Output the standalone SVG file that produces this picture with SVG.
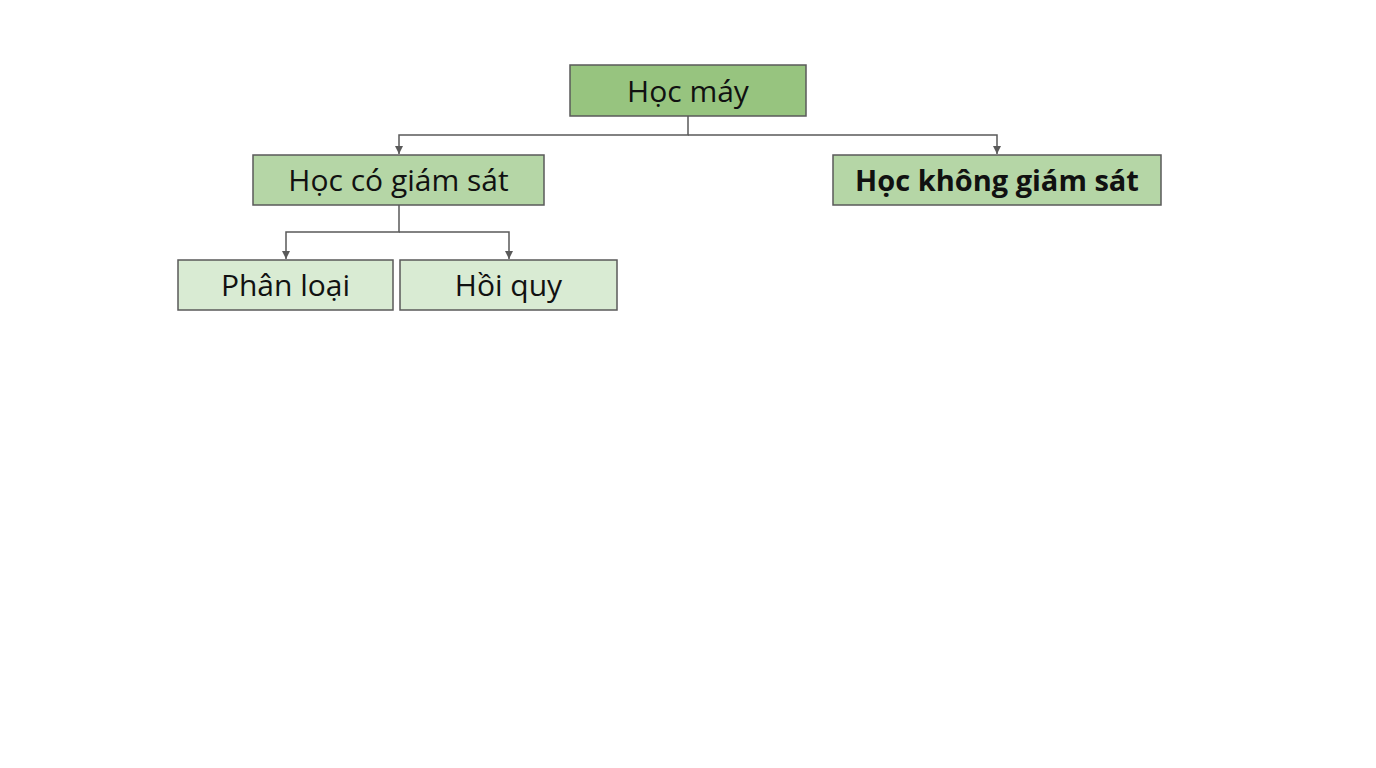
<svg xmlns="http://www.w3.org/2000/svg" width="1376" height="768" viewBox="0 0 1376 768">
<style>
.box{stroke:#5a5a5a;stroke-width:1.5}
.l0{fill:#97c47f}
.l1{fill:#b5d6a6}
.l2{fill:#d9ebd3}
.t{font-family:"Open Sans","Noto Sans","Liberation Sans",sans-serif;font-size:30px;fill:#111;text-anchor:middle;dominant-baseline:central}
.b{font-weight:bold;font-size:29px}
.c{fill:none;stroke:#5a5a5a;stroke-width:1.5}
</style>
<defs>
<marker id="ah" viewBox="0 0 8 8" refX="8" refY="4" markerWidth="8" markerHeight="8" markerUnits="userSpaceOnUse" orient="auto">
<path d="M0,0 L8,4 L0,8 z" fill="#5a5a5a"/>
</marker>
</defs>
<rect width="1376" height="768" fill="#ffffff"/>
<g id="connectors">
<path class="c" d="M688,116 V135 H399 V154" marker-end="url(#ah)"/>
<path class="c" d="M688,135 H997 V154" marker-end="url(#ah)"/>
<path class="c" d="M399,205 V232 H286 V259" marker-end="url(#ah)"/>
<path class="c" d="M399,232 H509 V259" marker-end="url(#ah)"/>
</g>
<g id="n-hocmay">
<rect class="box l0" x="570" y="65" width="236" height="51"/>
<text class="t" x="688" y="90">Học máy</text>
</g>
<g id="n-cogiamsat">
<rect class="box l1" x="253" y="155" width="291" height="50"/>
<text class="t" x="398.5" y="179">Học có giám sát</text>
</g>
<g id="n-khonggiamsat">
<rect class="box l1" x="833" y="155" width="328" height="50"/>
<text class="t b" x="997" y="179">Học không giám sát</text>
</g>
<g id="n-phanloai">
<rect class="box l2" x="178" y="260" width="215" height="50"/>
<text class="t" x="285.5" y="284">Phân loại</text>
</g>
<g id="n-hoiquy">
<rect class="box l2" x="400" y="260" width="217" height="50"/>
<text class="t" x="508.5" y="284">Hồi quy</text>
</g>
</svg>
